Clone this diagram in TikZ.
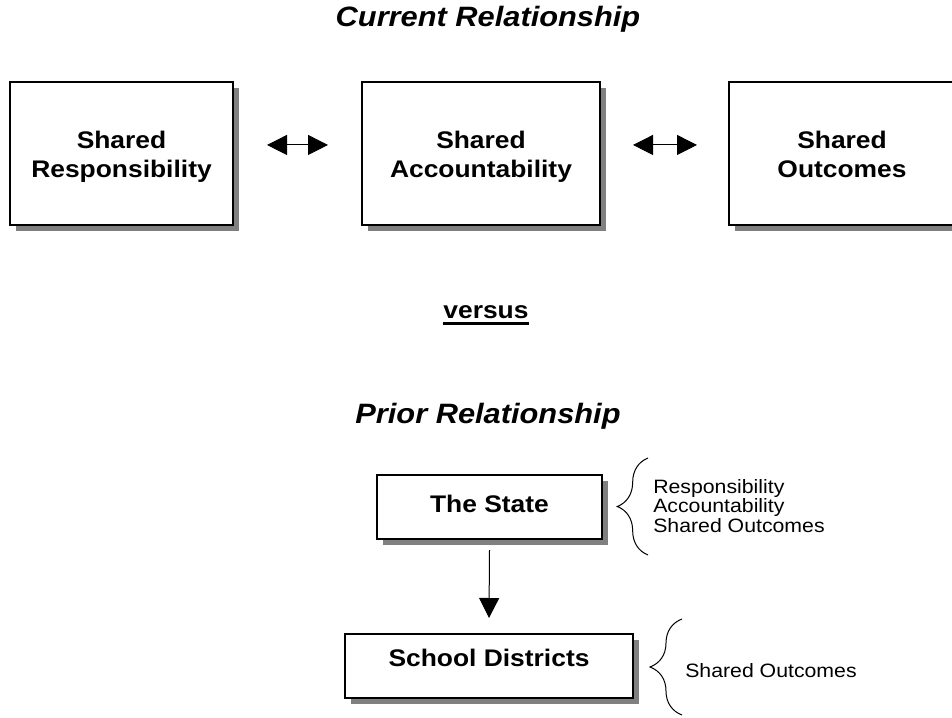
\documentclass[tikz,border=0pt]{standalone}
\usepackage{fontspec}
\setmainfont[FakeStretch=1.1]{Liberation Sans}
\newcommand{\thickul}[1]{\setbox0\hbox{#1}\rlap{\rule[-5.25pt]{\wd0}{2.25pt}}\box0}
\usetikzlibrary{arrows.meta,shadows,decorations.pathreplacing}
\begin{document}
\begin{tikzpicture}[x=0.75pt,y=-0.75pt,
  box/.style={draw,line width=1.3pt,fill=white,inner sep=0pt,outer sep=0pt,
    align=center,font=\fontsize{18}{21.75}\selectfont\bfseries,
    drop shadow={shadow xshift=4.5pt,shadow yshift=-4.5pt,fill=gray,opacity=1}},
  bigbox/.style={box,minimum height=107.25pt,text height=39pt,text depth=2.55pt},
  title/.style={anchor=base,font=\fontsize{21}{25}\selectfont\bfseries\itshape},
  twoway/.style={{Triangle[length=15pt,width=15pt]}-{Triangle[length=15pt,width=15pt]},line width=0.75pt},
  oneway/.style={-{Triangle[length=15pt,width=15pt]},line width=0.75pt},
  curly/.style={decorate,decoration={brace,amplitude=#1},line width=0.75pt},
  note/.style={align=left,inner sep=0pt,font=\fontsize{14.5}{14.6}\selectfont}]
\clip (0,0) rectangle (952,717);

\node[title] (cur) at (488,27) {Current Relationship};

\node[bigbox,minimum width=167.25pt] (resp) at (121.5,153.5) {Shared\\Responsibility};
\node[bigbox,minimum width=178.5pt] (acc) at (481,153.5) {Shared\\Accountability};
\node[bigbox,minimum width=169.5pt] (out) at (842,153.5) {Shared\\Outcomes};

\draw[twoway] ([xshift=25.5pt,yshift=6.4pt]resp.east) -- ([xshift=-25.5pt,yshift=6.4pt]acc.west);
\draw[twoway] ([xshift=24.75pt,yshift=6.4pt]acc.east) -- ([xshift=-24pt,yshift=6.4pt]out.west);

\node[anchor=base,font=\fontsize{18}{21.75}\selectfont\bfseries] (vs) at (486,318) {\thickul{versus}};

\node[title] (pri) at (488,423) {Prior Relationship};

\node[box,minimum width=168.75pt,minimum height=48pt,text height=13pt,text depth=5.5pt] (st) at (489.5,507) {The State};
\node[box,minimum width=216pt,minimum height=48pt,text height=13pt,text depth=12pt] (sd) at (489,666) {School Districts};

\draw[oneway] ([yshift=-8.25pt]st.south) -- ([yshift=12pt]sd.north);

\draw[curly=23pt] (648,555) -- (648,458);
\node[note,anchor=west] (stnote) at (653,506) {Responsibility\\Accountability\\Shared Outcomes};

\draw[curly=24pt] (682,715) -- (682,619);
\node[note,anchor=base west] (sdnote) at (685,677) {Shared Outcomes};
\end{tikzpicture}
\end{document}
